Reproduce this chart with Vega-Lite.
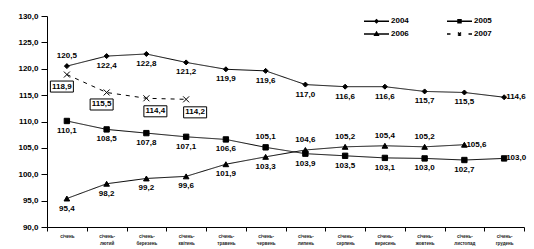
{
  "$schema": "https://vega.github.io/schema/vega-lite/v6.json",
  "autosize": {"type": "none"},
  "width": 477,
  "height": 211,
  "padding": {"left": 47, "top": 16, "right": 10, "bottom": 22},
  "background": "white",
  "config": {
    "locale": {"number": {"decimal": ",", "thousands": " ", "grouping": [3], "currency": ["", ""]}},
    "view": {"stroke": null},
    "font": "Liberation Sans"
  },
  "data": {
    "values": [
      {"m": "січень", "n": 1, "s": "2004", "v": 120.5},
      {"m": "січень-лютий", "n": 2, "s": "2004", "v": 122.4},
      {"m": "січень-березень", "n": 3, "s": "2004", "v": 122.8},
      {"m": "січень-квітень", "n": 4, "s": "2004", "v": 121.2},
      {"m": "січень-травень", "n": 5, "s": "2004", "v": 119.9},
      {"m": "січень-червень", "n": 6, "s": "2004", "v": 119.6},
      {"m": "січень-липень", "n": 7, "s": "2004", "v": 117.0},
      {"m": "січень-серпень", "n": 8, "s": "2004", "v": 116.6},
      {"m": "січень-вересень", "n": 9, "s": "2004", "v": 116.6},
      {"m": "січень-жовтень", "n": 10, "s": "2004", "v": 115.7},
      {"m": "січень-листопад", "n": 11, "s": "2004", "v": 115.5},
      {"m": "січень-грудень", "n": 12, "s": "2004", "v": 114.6},
      {"m": "січень", "n": 1, "s": "2005", "v": 110.1},
      {"m": "січень-лютий", "n": 2, "s": "2005", "v": 108.5},
      {"m": "січень-березень", "n": 3, "s": "2005", "v": 107.8},
      {"m": "січень-квітень", "n": 4, "s": "2005", "v": 107.1},
      {"m": "січень-травень", "n": 5, "s": "2005", "v": 106.6},
      {"m": "січень-червень", "n": 6, "s": "2005", "v": 105.1},
      {"m": "січень-липень", "n": 7, "s": "2005", "v": 103.9},
      {"m": "січень-серпень", "n": 8, "s": "2005", "v": 103.5},
      {"m": "січень-вересень", "n": 9, "s": "2005", "v": 103.1},
      {"m": "січень-жовтень", "n": 10, "s": "2005", "v": 103.0},
      {"m": "січень-листопад", "n": 11, "s": "2005", "v": 102.7},
      {"m": "січень-грудень", "n": 12, "s": "2005", "v": 103.0},
      {"m": "січень", "n": 1, "s": "2006", "v": 95.4},
      {"m": "січень-лютий", "n": 2, "s": "2006", "v": 98.2},
      {"m": "січень-березень", "n": 3, "s": "2006", "v": 99.2},
      {"m": "січень-квітень", "n": 4, "s": "2006", "v": 99.6},
      {"m": "січень-травень", "n": 5, "s": "2006", "v": 101.9},
      {"m": "січень-червень", "n": 6, "s": "2006", "v": 103.3},
      {"m": "січень-липень", "n": 7, "s": "2006", "v": 104.6},
      {"m": "січень-серпень", "n": 8, "s": "2006", "v": 105.2},
      {"m": "січень-вересень", "n": 9, "s": "2006", "v": 105.4},
      {"m": "січень-жовтень", "n": 10, "s": "2006", "v": 105.2},
      {"m": "січень-листопад", "n": 11, "s": "2006", "v": 105.6},
      {"m": "січень", "n": 1, "s": "2007", "v": 118.9},
      {"m": "січень-лютий", "n": 2, "s": "2007", "v": 115.5},
      {"m": "січень-березень", "n": 3, "s": "2007", "v": 114.4},
      {"m": "січень-квітень", "n": 4, "s": "2007", "v": 114.2}
    ]
  },
  "encoding": {
    "x": {
      "field": "m", "type": "nominal", "sort": null,
      "scale": {"type": "band", "paddingInner": 0, "paddingOuter": 0},
      "axis": {
        "title": null, "labelAngle": 0, "tickBand": "extent", "grid": false,
        "domainColor": "black", "tickColor": "black", "tickSize": 4,
        "labelFontSize": 4.5, "labelFontWeight": "bold", "labelColor": "#222",
        "labelLineHeight": 7, "labelPadding": 2, "labelBaseline": "top",
        "labelExpr": "datum.label == 'січень' ? 'січень' : [slice(datum.label, 0, 7), slice(datum.label, 7)]"
      }
    },
    "y": {
      "field": "v", "type": "quantitative",
      "scale": {"domain": [90, 130], "nice": false, "zero": false},
      "axis": {
        "title": null, "values": [90, 95, 100, 105, 110, 115, 120, 125, 130], "format": ".1f",
        "grid": false, "domainColor": "black", "tickColor": "black", "tickSize": 6,
        "labelFontSize": 8, "labelFontWeight": "bold", "labelColor": "black", "labelPadding": 3
      }
    }
  },
  "layer": [
    {
      "mark": {"type": "line", "color": "black", "strokeWidth": 1},
      "encoding": {
        "detail": {"field": "s"},
        "strokeDash": {
          "field": "s", "type": "nominal", "legend": null,
          "scale": {"domain": ["2004", "2005", "2006", "2007"], "range": [[1, 0], [1, 0], [1, 0], [4, 5]]}
        }
      }
    },
    {
      "mark": {"type": "point", "filled": true, "fill": "black", "stroke": "black", "strokeWidth": 1, "opacity": 1},
      "encoding": {
        "shape": {
          "field": "s", "type": "nominal", "legend": null,
          "scale": {"domain": ["2004", "2005", "2006", "2007"], "range": ["diamond", "square", "triangle-up", "M-1,-1L1,1M-1,1L1,-1"]}
        },
        "size": {
          "field": "s", "type": "nominal", "legend": null,
          "scale": {"domain": ["2004", "2005", "2006", "2007"], "range": [25, 36, 36, 36]}
        }
      }
    },
    {
      "mark": {"type": "point", "filled": true, "fill": "black", "stroke": "black", "strokeWidth": 1, "opacity": 0},
      "encoding": {
        "shape": {
          "field": "s", "type": "nominal",
          "scale": {"domain": ["2004", "2005", "2006", "2007"], "range": [
            "M-2.5,0H2.5M0,-0.3L0.3,0L0,0.3L-0.3,0Z",
            "M-2.5,0H2.5M-0.3,-0.3H0.3V0.3H-0.3Z",
            "M-2.5,0H2.5M0,-0.35L0.35,0.25H-0.35Z",
            "M-2.5,0H-1.8M-0.3,-0.3L0.3,0.3M-0.3,0.3L0.3,-0.3M1.8,0H2.5"
          ]},
          "legend": {
            "title": null, "orient": "none", "legendX": 316, "legendY": -1,
            "direction": "horizontal",
            "columns": 2, "columnPadding": 35, "rowPadding": 2, "padding": 0,
            "symbolSize": 100, "symbolOffset": 7.5, "labelOffset": 8.5,
            "labelFontSize": 8, "labelFontWeight": "bold", "labelColor": "black",
            "encode": {
              "symbols": {
                "update": {
                  "stroke": {"value": "black"},
                  "strokeWidth": {"value": 1},
                  "fill": {"value": "black"},
                  "opacity": {"value": 1},
                  "strokeOpacity": {"value": 1},
                  "fillOpacity": {"value": 1}
                }
              }
            }
          }
        }
      }
    },
    {
      "transform": [{"filter": "(datum.s=='2004'&&datum.n==1)||(datum.s=='2005'&&datum.n==6)||(datum.s=='2006'&&datum.n>=7&&datum.n<=10)"}],
      "mark": {"type": "text", "dy": -10, "fontSize": 8, "fontWeight": "bold", "color": "black", "baseline": "middle"},
      "encoding": {"text": {"field": "v", "type": "quantitative", "format": ".1f"}}
    },
    {
      "transform": [{"filter": "(datum.s=='2004'&&datum.n==12)||(datum.s=='2005'&&datum.n==12)||(datum.s=='2006'&&datum.n==11)"}],
      "mark": {"type": "text", "dx": 2, "align": "left", "fontSize": 8, "fontWeight": "bold", "color": "black", "baseline": "middle"},
      "encoding": {"text": {"field": "v", "type": "quantitative", "format": ".1f"}}
    },
    {
      "transform": [{"filter": "datum.s!='2007' && !((datum.s=='2004'&&datum.n==1)||(datum.s=='2005'&&datum.n==6)||(datum.s=='2006'&&datum.n>=7&&datum.n<=10)) && !((datum.s=='2004'&&datum.n==12)||(datum.s=='2005'&&datum.n==12)||(datum.s=='2006'&&datum.n==11))"}],
      "mark": {"type": "text", "dy": 10, "fontSize": 8, "fontWeight": "bold", "color": "black", "baseline": "middle"},
      "encoding": {"text": {"field": "v", "type": "quantitative", "format": ".1f"}}
    },
    {
      "transform": [{"filter": "datum.s=='2007' && datum.n<=2"}],
      "layer": [
        {
          "mark": {"type": "point", "shape": "M-1,-0.48H1V0.48H-1Z", "size": 529, "filled": true, "fill": "white", "stroke": "black", "strokeWidth": 1, "opacity": 1, "xOffset": -5, "yOffset": 12}
        },
        {
          "mark": {"type": "text", "xOffset": -5, "yOffset": 12, "fontSize": 8, "fontWeight": "bold", "color": "black", "baseline": "middle"},
          "encoding": {"text": {"field": "v", "type": "quantitative", "format": ".1f"}}
        }
      ]
    },
    {
      "transform": [{"filter": "datum.s=='2007' && datum.n>=3"}],
      "layer": [
        {
          "mark": {"type": "point", "shape": "M-1,-0.48H1V0.48H-1Z", "size": 529, "filled": true, "fill": "white", "stroke": "black", "strokeWidth": 1, "opacity": 1, "xOffset": 9, "yOffset": 13}
        },
        {
          "mark": {"type": "text", "xOffset": 9, "yOffset": 13, "fontSize": 8, "fontWeight": "bold", "color": "black", "baseline": "middle"},
          "encoding": {"text": {"field": "v", "type": "quantitative", "format": ".1f"}}
        }
      ]
    }
  ],
  "resolve": {"scale": {"shape": "independent", "size": "independent", "strokeDash": "independent"}}
}
